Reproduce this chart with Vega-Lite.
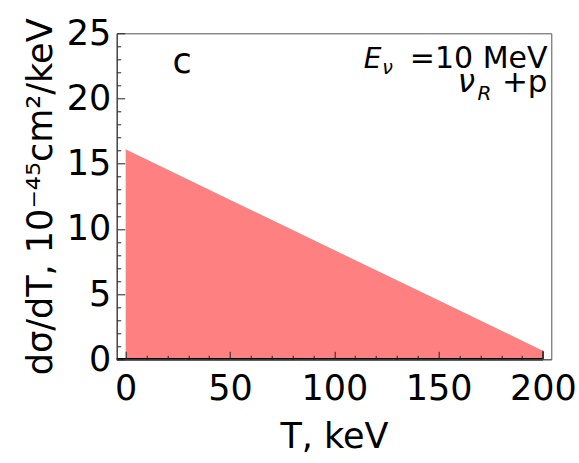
{
  "$schema": "https://vega.github.io/schema/vega-lite/v6.json",
  "width": 434.6,
  "height": 326,
  "autosize": "none",
  "padding": {"left": 116.7, "top": 33.3, "right": 27.7, "bottom": 103.7},
  "config": {
    "font": "DejaVu Sans",
    "view": {"stroke": "#555", "strokeWidth": 1}
  },
  "datasets": {
    "curve": [
      {"T": 0, "dsdT": 16.1},
      {"T": 50, "dsdT": 12.24},
      {"T": 100, "dsdT": 8.38},
      {"T": 150, "dsdT": 4.52},
      {"T": 200, "dsdT": 0.66}
    ],
    "axisline": [{"x0": -4.3, "x1": 200, "y": 0}],
    "edge": [{"T": 200, "y0": 0, "y1": 0.66}],
    "notes": [
      {"key": "c", "T": 27, "y": 21.98, "text": "c"},
      {"key": "E", "T": 114.1, "y": 22.34, "text": "E"},
      {"key": "Esub", "T": 123.0, "y": 21.9, "text": "ν"},
      {"key": "Eval", "T": 202.2, "y": 22.34, "text": "=10 MeV"},
      {"key": "nu", "T": 159.2, "y": 20.5, "text": "ν"},
      {"key": "nusub", "T": 168.6, "y": 19.9, "text": "R"},
      {"key": "plusp", "T": 202.2, "y": 20.5, "text": "+p"}
    ]
  },
  "layer": [
    {
      "data": {"name": "curve"},
      "mark": {"type": "area", "color": "#ff8080", "opacity": 1},
      "encoding": {
        "x": {
          "field": "T", "type": "quantitative",
          "scale": {"domain": [-4.3, 204], "nice": false, "zero": false},
          "axis": {
            "orient": "bottom", "values": [0, 50, 100, 150, 200], "format": "d", "zindex": 2,
            "title": "T, keV", "titleFontSize": 35, "titleFontWeight": "normal", "titleColor": "black", "titlePadding": 13,
            "labelFontSize": 35, "labelColor": "black", "labelPadding": 20, "labelFlush": false, "labelOverlap": false,
            "ticks": true, "tickSize": -8, "tickColor": "#222", "tickWidth": 1, "domainColor": "#555", "domainWidth": 1, "grid": false
          }
        },
        "y": {
          "field": "dsdT", "type": "quantitative",
          "scale": {"domain": [0, 25], "nice": false, "zero": false},
          "axis": {
            "orient": "left", "values": [0, 5, 10, 15, 20, 25], "format": "d", "zindex": 2,
            "title": "dσ/dT, 10⁻⁴⁵cm²/keV", "titleFontSize": 35, "titleFontWeight": "normal", "titleColor": "black", "titlePadding": 8,
            "labelFontSize": 35, "labelColor": "black", "labelPadding": 14, "labelFlush": false, "labelOverlap": false,
            "ticks": true, "tickSize": -8, "tickColor": "#222", "tickWidth": 1, "domainColor": "#333", "domainWidth": 1, "grid": false
          }
        }
      }
    },
    {
      "data": {"name": "axisline"},
      "mark": {"type": "rule", "color": "black", "strokeWidth": 2.5},
      "encoding": {
        "x": {
          "field": "x0", "type": "quantitative",
          "axis": {
            "orient": "bottom", "values": [10, 20, 30, 40, 60, 70, 80, 90, 110, 120, 130, 140, 160, 170, 180, 190], "zindex": 2,
            "labels": false, "domain": false, "title": null, "ticks": true, "tickSize": -4, "tickColor": "#222", "tickWidth": 1, "grid": false
          }
        },
        "x2": {"field": "x1"},
        "y": {
          "field": "y", "type": "quantitative",
          "axis": {
            "orient": "left", "values": [1, 2, 3, 4, 6, 7, 8, 9, 11, 12, 13, 14, 16, 17, 18, 19, 21, 22, 23, 24], "zindex": 2,
            "labels": false, "domain": false, "title": null, "ticks": true, "tickSize": -4, "tickColor": "#222", "tickWidth": 1, "grid": false
          }
        }
      }
    },
    {
      "data": {"name": "edge"},
      "mark": {"type": "rule", "color": "#333", "strokeWidth": 1.5},
      "encoding": {
        "x": {"field": "T", "type": "quantitative", "axis": null},
        "y": {"field": "y0", "type": "quantitative", "axis": null},
        "y2": {"field": "y1"}
      }
    },
    {
      "data": {"name": "notes"},
      "transform": [{"filter": "datum.key === 'c'"}],
      "mark": {"type": "text", "fontSize": 35, "align": "center", "baseline": "alphabetic", "color": "black"},
      "encoding": {
        "x": {"field": "T", "type": "quantitative", "axis": null},
        "y": {"field": "y", "type": "quantitative", "axis": null},
        "text": {"field": "text"}
      }
    },
    {
      "data": {"name": "notes"},
      "transform": [{"filter": "datum.key === 'E'"}],
      "mark": {"type": "text", "fontSize": 28, "fontStyle": "italic", "align": "left", "baseline": "alphabetic", "color": "black"},
      "encoding": {
        "x": {"field": "T", "type": "quantitative", "axis": null},
        "y": {"field": "y", "type": "quantitative", "axis": null},
        "text": {"field": "text"}
      }
    },
    {
      "data": {"name": "notes"},
      "transform": [{"filter": "datum.key === 'Esub'"}],
      "mark": {"type": "text", "fontSize": 19, "fontStyle": "italic", "align": "left", "baseline": "alphabetic", "color": "black"},
      "encoding": {
        "x": {"field": "T", "type": "quantitative", "axis": null},
        "y": {"field": "y", "type": "quantitative", "axis": null},
        "text": {"field": "text"}
      }
    },
    {
      "data": {"name": "notes"},
      "transform": [{"filter": "datum.key === 'Eval'"}],
      "mark": {"type": "text", "fontSize": 30, "align": "right", "baseline": "alphabetic", "color": "black"},
      "encoding": {
        "x": {"field": "T", "type": "quantitative", "axis": null},
        "y": {"field": "y", "type": "quantitative", "axis": null},
        "text": {"field": "text"}
      }
    },
    {
      "data": {"name": "notes"},
      "transform": [{"filter": "datum.key === 'nu'"}],
      "mark": {"type": "text", "fontSize": 31, "fontStyle": "italic", "align": "left", "baseline": "alphabetic", "color": "black"},
      "encoding": {
        "x": {"field": "T", "type": "quantitative", "axis": null},
        "y": {"field": "y", "type": "quantitative", "axis": null},
        "text": {"field": "text"}
      }
    },
    {
      "data": {"name": "notes"},
      "transform": [{"filter": "datum.key === 'nusub'"}],
      "mark": {"type": "text", "fontSize": 20, "fontStyle": "italic", "align": "left", "baseline": "alphabetic", "color": "black"},
      "encoding": {
        "x": {"field": "T", "type": "quantitative", "axis": null},
        "y": {"field": "y", "type": "quantitative", "axis": null},
        "text": {"field": "text"}
      }
    },
    {
      "data": {"name": "notes"},
      "transform": [{"filter": "datum.key === 'plusp'"}],
      "mark": {"type": "text", "fontSize": 31, "align": "right", "baseline": "alphabetic", "color": "black"},
      "encoding": {
        "x": {"field": "T", "type": "quantitative", "axis": null},
        "y": {"field": "y", "type": "quantitative", "axis": null},
        "text": {"field": "text"}
      }
    }
  ],
  "resolve": {"axis": {"x": "independent", "y": "independent"}}
}
